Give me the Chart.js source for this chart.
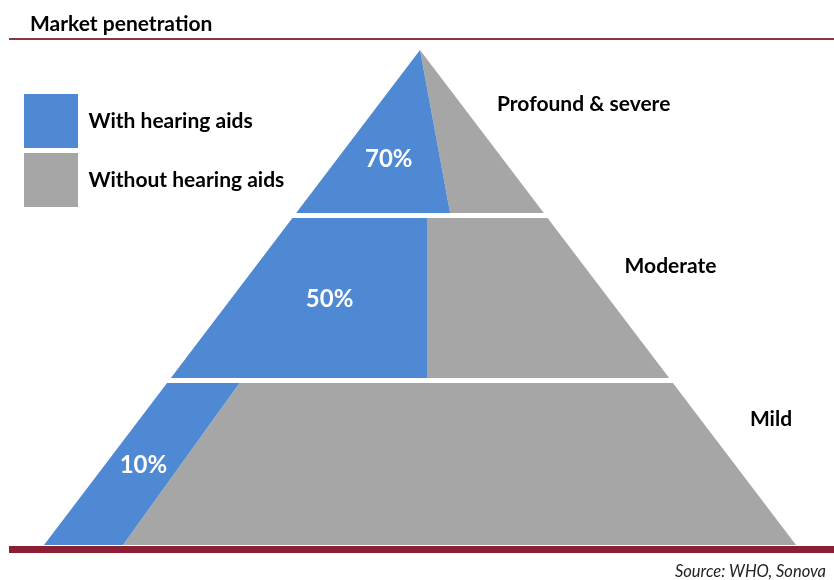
<!DOCTYPE html>
<html>
<head>
<meta charset="utf-8">
<title>Market penetration</title>
<script src="https://cdn.jsdelivr.net/npm/chart.js"></script>
<style>
  html, body { margin: 0; padding: 0; background: #fff; }
  #wrap { position: relative; width: 834px; height: 580px; }
</style>
</head>
<body>
<div id="wrap"><canvas id="pyramid"></canvas></div>
<script>
// Data (bottom tier first)
const tiers = ['Mild', 'Moderate', 'Profound & severe'];
const withAids = [10, 50, 70];            // % of each tier with hearing aids
const splitTop = [-0.48, 0.02, 0];        // blue/grey boundary at top of each tier (base half-widths)
const splitBottom = [-0.79, 0.02, 0.08];  // same, at bottom of each tier
const legendLabels = ['With hearing aids', 'Without hearing aids'];

const BLUE = '#4F88D3';
const GREY = '#A6A6A6';
const FONT = 'Lato';

// axes: x in base half-widths (0 = apex), y in tiers (0 = base, 3 = apex)
const CX = 420, UX = 376, BASE = 545, UY = 165, LEFT_PAD = 19;
const W = 834, H = 580;
const levels = tiers.length;

function halfWidth(l) { return (levels - l) / levels; }

function tierRange(i) {
    return {
        bottom: i === 0 ? 0 : i + 0.012,
        top: i === levels - 1 ? levels : i + 1 - 0.018
    };
}

// drop repeated corners and close the shape
function polygon(pts) {
    const out = [];
    pts.forEach(p => {
        const last = out[out.length - 1];
        if (!last || last.x !== p.x || last.y !== p.y) out.push(p);
    });
    out.push(out[0]);
    return out;
}

const shapeStyle = {
    fill: 'shape',
    borderWidth: 0,
    borderColor: 'rgba(0,0,0,0)',
    pointRadius: 0,
    pointHoverRadius: 0,
    tension: 0,
    clip: false
};

const datasets = [];
tiers.forEach((name, i) => {
    const {bottom, top} = tierRange(i);
    datasets.push(Object.assign({
        label: name + ' (with)',
        pct: withAids[i],
        backgroundColor: BLUE,
        data: polygon([
            {x: -halfWidth(top), y: top},
            {x: splitTop[i], y: top},
            {x: splitBottom[i], y: bottom},
            {x: -halfWidth(bottom), y: bottom}
        ])
    }, shapeStyle));
    datasets.push(Object.assign({
        label: name + ' (without)',
        backgroundColor: GREY,
        data: polygon([
            {x: splitTop[i], y: top},
            {x: halfWidth(top), y: top},
            {x: halfWidth(bottom), y: bottom},
            {x: splitBottom[i], y: bottom}
        ])
    }, shapeStyle));
});

// texts, rules, labels
const decor = {
    id: 'decor',
    beforeDraw(chart) {
        const ctx = chart.ctx;
        ctx.save();
        ctx.fillStyle = '#8C3345';
        ctx.fillRect(9, 38, W - 9, 2);
        ctx.fillStyle = '#8B1E32';
        ctx.fillRect(9, 546, W - 9, 7);
        ctx.restore();
    },
    afterDatasetsDraw(chart) {
        const ctx = chart.ctx;
        const xs = chart.scales.x, ys = chart.scales.y;
        ctx.save();
        ctx.textBaseline = 'middle';
        // percentages in the blue parts
        ctx.fillStyle = '#fff';
        ctx.textAlign = 'center';
        ctx.font = 'bold 24px ' + FONT;
        chart.data.datasets.forEach(ds => {
            if (ds.pct === undefined) return;
            const pts = ds.data.slice(0, -1);
            const mx = pts.reduce((s, p) => s + p.x, 0) / pts.length;
            const my = pts.reduce((s, p) => s + p.y, 0) / pts.length;
            ctx.fillText(ds.pct + '%', xs.getPixelForValue(mx), ys.getPixelForValue(my) + 1);
        });
        // tier names on the right
        ctx.fillStyle = '#000';
        ctx.textAlign = 'left';
        ctx.font = 'bold 21px ' + FONT;
        const labelLevels = [0.76, 0.69, 0.67];
        tiers.forEach((name, i) => {
            const top = tierRange(i).top;
            const x = xs.getPixelForValue(halfWidth(top)) + 77;
            const y = ys.getPixelForValue(i + labelLevels[i]);
            ctx.fillText(name, x, y);
        });
        ctx.restore();
    },
    afterDraw(chart) {
        const ctx = chart.ctx;
        ctx.save();
        ctx.fillStyle = '#000';
        ctx.textBaseline = 'alphabetic';
        ctx.textAlign = 'left';
        ctx.font = 'bold 21px ' + FONT;
        ctx.fillText('Market penetration', 30, 31);
        ctx.textAlign = 'right';
        ctx.fillStyle = '#222';
        ctx.font = 'italic 16.5px ' + FONT;
        ctx.fillText('Source: WHO, Sonova', 826, 577);
        ctx.restore();
    }
};

new Chart(document.getElementById('pyramid'), {
    type: 'line',
    data: { datasets: datasets },
    plugins: [decor],
    options: {
        responsive: true,
        maintainAspectRatio: false,
        animation: false,
        events: [],
        layout: { padding: { left: LEFT_PAD, top: 0, right: 0, bottom: 0 } },
        scales: {
            x: {
                type: 'linear',
                display: false,
                bounds: 'data',
                min: (LEFT_PAD - CX) / UX,
                max: (W - CX) / UX
            },
            y: {
                type: 'linear',
                display: false,
                bounds: 'data',
                min: (BASE - H) / UY,
                max: BASE / UY
            }
        },
        plugins: {
            tooltip: { enabled: false },
            legend: {
                position: 'chartArea',
                align: 'start',
                onClick: null,
                title: { display: true, text: '', padding: { top: 77, bottom: 0 }, font: { size: 10 } },
                labels: {
                    boxWidth: 54,
                    boxHeight: 54,
                    padding: 5,
                    color: '#000',
                    font: { family: FONT, size: 21, weight: 'bold' },
                    generateLabels: () => legendLabels.map((t, k) => ({
                        text: t,
                        fillStyle: k ? GREY : BLUE,
                        strokeStyle: 'rgba(0,0,0,0)',
                        lineWidth: 0,
                        fontColor: '#000',
                        hidden: false,
                        datasetIndex: k
                    }))
                }
            }
        }
    }
});
</script>
</body>
</html>
